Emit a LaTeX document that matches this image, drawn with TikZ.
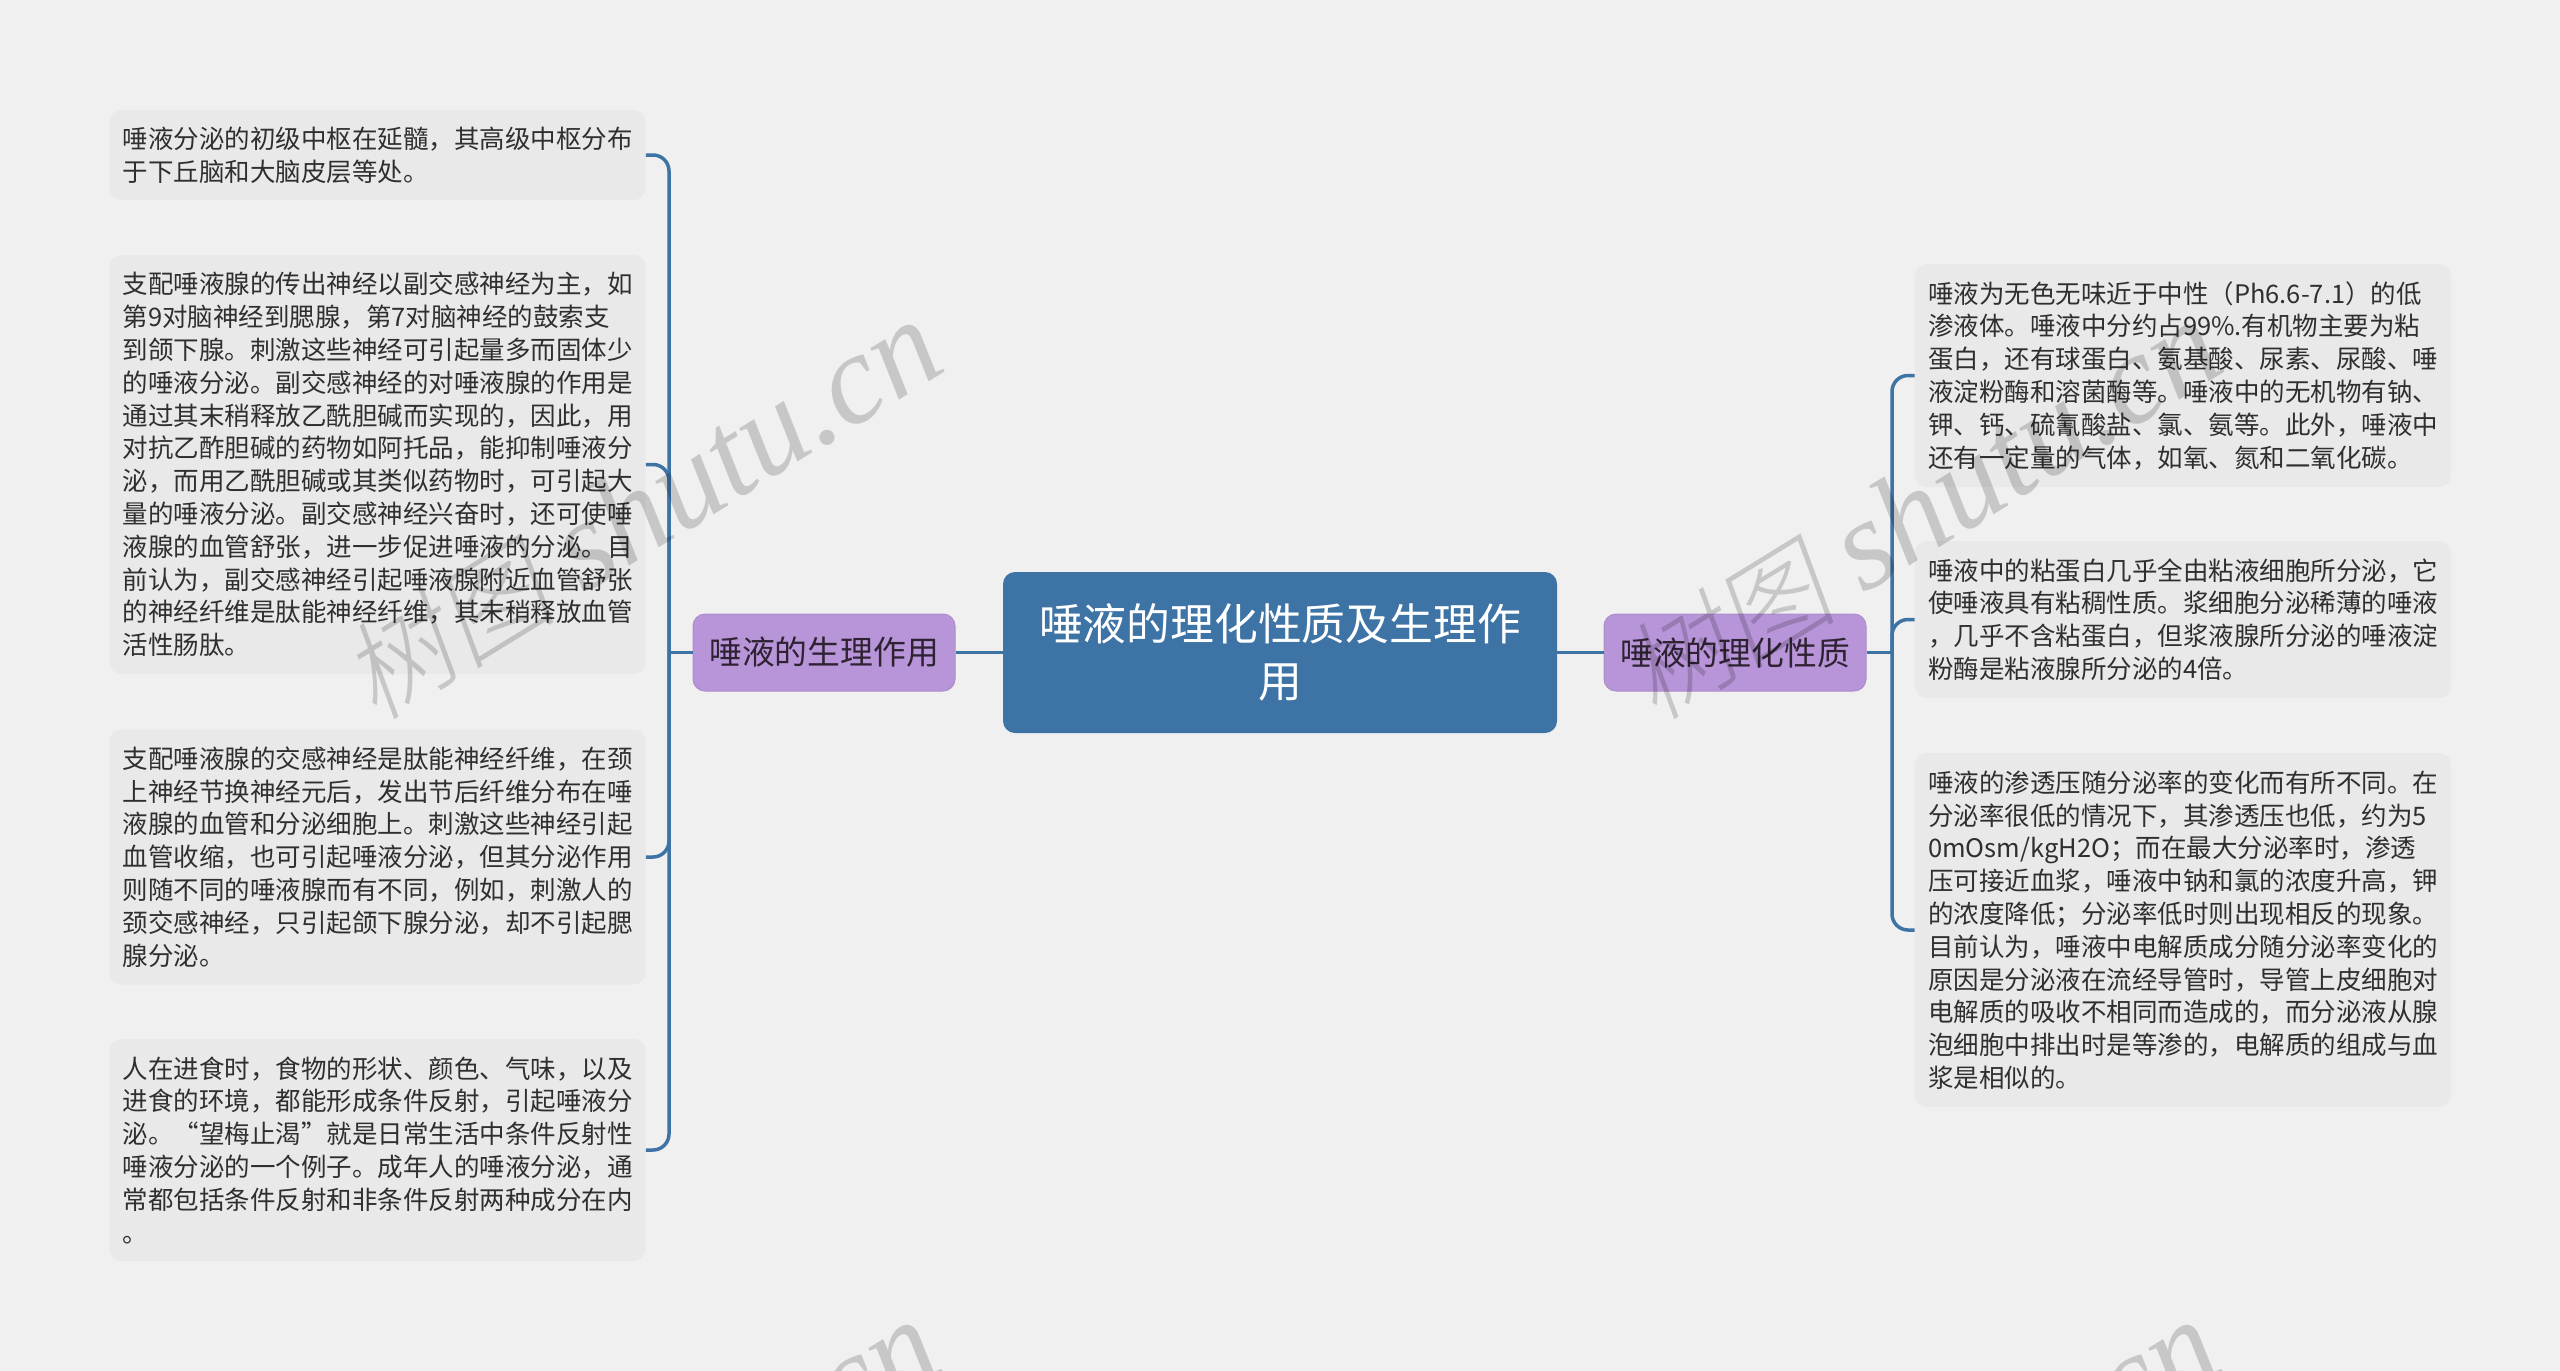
\documentclass[tikz,border=0pt]{standalone}
\usepackage{fontspec}
\setmainfont{Noto Sans CJK SC}
\newfontfamily\wmcjk[FakeSlant=0.2]{Noto Sans CJK SC Light}
\newfontfamily\wmlat{Liberation Serif}
\definecolor{pagebg}{HTML}{F0F0F0}
\definecolor{leafbg}{HTML}{E9E9E9}
\definecolor{rootblue}{HTML}{3D73A5}
\definecolor{branchpurple}{HTML}{B795D8}
\definecolor{branchedge}{HTML}{AD8DCB}
\definecolor{leaftext}{HTML}{2F2F2F}
\definecolor{branchtext}{HTML}{2E2233}
\tikzset{
  x=0.5pt,y=-0.5pt,
  leaf/.style={fill=leafbg,rounded corners=6pt,inner xsep=6.5pt,inner ysep=0pt,text width=255pt,align=left,text=leaftext,
    font=\fontsize{12.75pt}{16.4pt}\selectfont},
  branch/.style={fill=branchpurple,draw=branchedge,line width=0.5pt,rounded corners=6pt,minimum width=131pt,minimum height=38.5pt,inner sep=0pt,text=branchtext,align=center,
    font=\fontsize{16.4pt}{20pt}\selectfont},
  rootnode/.style={fill=rootblue,rounded corners=6pt,minimum width=277pt,minimum height=80.5pt,inner sep=0pt,text=white,align=center,text width=260pt,
    font=\fontsize{21.9pt}{28.5pt}\selectfont},
  conn/.style={draw=rootblue,line width=1.75pt,rounded corners=8pt},
  wm/.style={rotate=31.6,text=black,opacity=0.17,inner sep=0pt},
}
\newcommand{\wmtext}{{\fontsize{54pt}{54pt}\selectfont\wmcjk 树图}\hspace{14pt}{\fontsize{64pt}{64pt}\selectfont\wmlat\itshape shutu.cn}}
\begin{document}
\begin{tikzpicture}
\useasboundingbox (0,0) rectangle (2560,1371);
\fill[pagebg] (0,0) rectangle (2560,1371);

\node[rootnode] (root) at (1280,652.5) {唾液的理化性质及生理作\\用};
\node[branch] (bl) at (824,652.5) {唾液的生理作用};
\node[branch] (br) at (1735,652.5) {唾液的理化性质};

\node[leaf,minimum height=45pt] (l1) at (377.5,155) {唾液分泌的初级中枢在延髓，其高级中枢分布\\于下丘脑和大脑皮层等处。};
\node[leaf,minimum height=209.5pt] (l2) at (377.5,464.5) {支配唾液腺的传出神经以副交感神经为主，如\\第9对脑神经到腮腺，第7对脑神经的鼓索支\\到颌下腺。刺激这些神经可引起量多而固体少\\的唾液分泌。副交感神经的对唾液腺的作用是\\通过其末稍释放乙酰胆碱而实现的，因此，用\\对抗乙酢胆碱的药物如阿托品，能抑制唾液分\\泌，而用乙酰胆碱或其类似药物时，可引起大\\量的唾液分泌。副交感神经兴奋时，还可使唾\\液腺的血管舒张，进一步促进唾液的分泌。目\\前认为，副交感神经引起唾液腺附近血管舒张\\的神经纤维是肽能神经纤维，其末稍释放血管\\活性肠肽。};
\node[leaf,minimum height=127.5pt] (l3) at (377.5,857) {支配唾液腺的交感神经是肽能神经纤维，在颈\\上神经节换神经元后，发出节后纤维分布在唾\\液腺的血管和分泌细胞上。刺激这些神经引起\\血管收缩，也可引起唾液分泌，但其分泌作用\\则随不同的唾液腺而有不同，例如，刺激人的\\颈交感神经，只引起颌下腺分泌，却不引起腮\\腺分泌。};
\node[leaf,minimum height=111pt] (l4) at (377.5,1150) {人在进食时，食物的形状、颜色、气味，以及\\进食的环境，都能形成条件反射，引起唾液分\\泌。“望梅止渴”就是日常生活中条件反射性\\唾液分泌的一个例子。成年人的唾液分泌，通\\常都包括条件反射和非条件反射两种成分在内\\。};

\node[leaf,minimum height=111.5pt] (r1) at (2183,375.5) {唾液为无色无味近于中性（Ph6.6-7.1）的低\\渗液体。唾液中分约占99\%.有机物主要为粘\\蛋白，还有球蛋白、氨基酸、尿素、尿酸、唾\\液淀粉酶和溶菌酶等。唾液中的无机物有钠、\\钾、钙、硫氰酸盐、氯、氨等。此外，唾液中\\还有一定量的气体，如氧、氮和二氧化碳。};
\node[leaf,minimum height=78.5pt] (r2) at (2183,619.5) {唾液中的粘蛋白几乎全由粘液细胞所分泌，它\\使唾液具有粘稠性质。浆细胞分泌稀薄的唾液\\，几乎不含粘蛋白，但浆液腺所分泌的唾液淀\\粉酶是粘液腺所分泌的4倍。};
\node[leaf,minimum height=177pt] (r3) at (2183,930) {唾液的渗透压随分泌率的变化而有所不同。在\\分泌率很低的情况下，其渗透压也低，约为5\\0mOsm/kgH2O；而在最大分泌率时，渗透\\压可接近血浆，唾液中钠和氯的浓度升高，钾\\的浓度降低；分泌率低时则出现相反的现象。\\目前认为，唾液中电解质成分随分泌率变化的\\原因是分泌液在流经导管时，导管上皮细胞对\\电解质的吸收不相同而造成的，而分泌液从腺\\泡细胞中排出时是等渗的，电解质的组成与血\\浆是相似的。};

\coordinate (jl) at (669,652.5);
\coordinate (jr) at (1892,652.5);

\draw[conn] (root.west) -- (bl.east);
\draw[conn] (root.east) -- (br.west);
\draw[conn] (bl.west) -- (jl);
\draw[conn] (br.east) -- (jr);
\foreach \n in {l1,l2,l3,l4} \draw[conn] (\n.east) -| (jl);
\foreach \n in {r1,r2,r3} \draw[conn] (\n.west) -| (jr);

\begin{scope}
\clip (0,0) rectangle (2560,1371);
\node[wm] (w1) at (641,511) {\wmtext};
\node[wm] (w2) at (1921,511) {\wmtext};
\node[wm] (w3) at (639,1511) {\wmtext};
\node[wm] (w4) at (1919,1511) {\wmtext};
\end{scope}
\end{tikzpicture}
\end{document}
